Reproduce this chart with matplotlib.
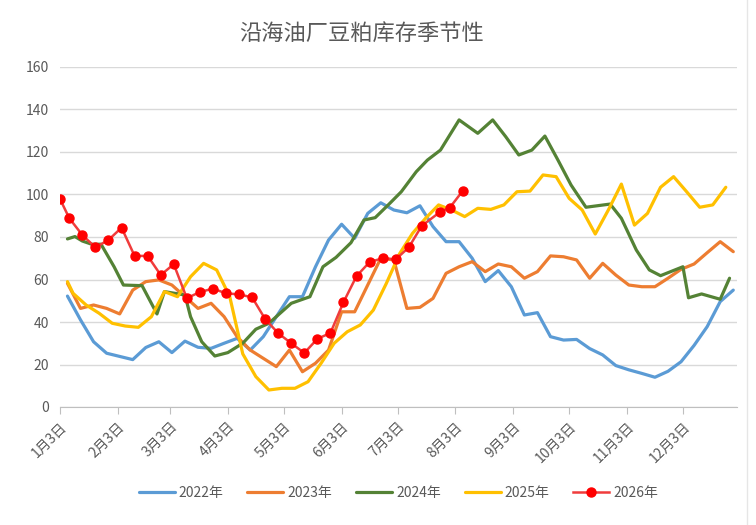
"""
沿海油厂豆粕库存季节性图。
"""
from datetime import date

import matplotlib
matplotlib.use("Agg")
import matplotlib.pyplot as plt
from matplotlib.lines import Line2D

plt.rcParams['font.family'] = ['Noto Sans CJK SC', 'DejaVu Sans']

# 数据：横轴为自1月3日起的天数，纵轴为库存（万吨）
days_2022 = list(range(4, 365, 7))
vals_2022 = [52.2, 41, 30.7, 25.3, 23.8, 22.3, 28, 30.7, 25.6, 31, 28.1, 27.6, 30,
             32.3, 26.8, 33.1, 42.5, 51.9, 51.9, 66, 78.6, 86, 79.4, 91.1, 96.1, 92.7,
             91.4, 94.7, 84.9, 77.8, 77.8, 70, 59, 64.2, 56.6, 43.3, 44.4, 33.1, 31.5,
             31.8, 27.5, 24.5, 19.5, 17.5, 15.8, 14, 16.8, 21.3, 29, 37.8, 49.6, 55]

days_2023 = list(range(4, 365, 7))
vals_2023 = [58.2, 46.4, 48, 46.4, 43.8, 55, 59, 59.8, 57.4, 51.9, 46.4, 48.8, 42.5,
             33, 26.8, 22.9, 19, 26.8, 16.6, 20.6, 26.8, 44.8, 44.8, 57.4, 70, 69.2,
             46.4, 46.9, 51.1, 62.9, 66, 68.4, 63.7, 67.3, 66, 60.6, 63.7, 71.1, 70.7,
             69.2, 60.6, 67.6, 62.1, 57.4, 56.6, 56.6, 60.6, 64.8, 67.3, 72.6, 77.8, 73.1]

days_2024 = [4, 8, 12, 17, 22, 29, 34, 44, 52, 56, 67, 70, 76, 83, 90, 98, 105, 112,
             118, 124, 134, 141, 148, 156, 163, 169, 176, 183, 191, 197, 204, 214, 224,
             232, 239, 246, 253, 260, 267, 274, 282, 295, 301, 309, 316, 322, 334, 337,
             344, 354, 359]
vals_2024 = [79.1, 80.2, 78.1, 76.6, 76.6, 66, 57.4, 57.1, 43.8, 54.3, 52.7, 42.5, 30.7,
             24, 25.6, 30, 36.6, 39.4, 44.1, 48.8, 51.9, 66, 70.4, 77.3, 88, 89.1, 95.1,
             101.3, 110.7, 116.2, 120.9, 135.1, 128.8, 135.1, 127.2, 118.6, 120.9, 127.5,
             116.2, 104.5, 94, 95.5, 88.8, 73.9, 64.5, 61.8, 66, 51.4, 53.2, 50.7, 60.6]

days_2025 = [4] + list(range(7, 358, 7))
vals_2025 = [59, 53.5, 48, 44.1, 39.4, 38.1, 37.5, 42.5, 54.3, 51.9, 61.3, 67.6, 64.5,
             52, 25, 14.3, 8, 8.8, 8.8, 11.9, 20.6, 30, 35.4, 38.6, 45.6, 58.2, 72, 81.7,
             88.8, 95.1, 92.7, 89.6, 93.5, 93, 95.1, 101.3, 101.6, 109.2, 108.4, 98.2,
             92.7, 81.4, 92.7, 104.9, 85.6, 91.1, 103.4, 108.4, 101.3, 94, 95.1, 103.4]

days_2026 = [0] + list(range(5, 195, 7)) + [204, 209, 216]
vals_2026 = [97.9, 88.8, 80.9, 75.1, 78.6, 84.4, 71.1, 71.1, 62.1, 67.2, 51.2, 54.1,
             55.7, 53.5, 53, 51.6, 41.4, 34.7, 30, 25.4, 32.1, 34.8, 49.3, 61.6, 68.2,
             70, 69.5, 75.1, 85.3, 91.9, 93.8, 101.8]

tick_months = list(range(1, 13))
tick_labels = [f"{m}月3日" for m in tick_months]

text_color = '#595959'
grid_color = '#D9D9D9'

fig = plt.figure(figsize=(7.56, 5.25), dpi=100)
fig.patch.set_facecolor('white')
ax = fig.add_axes([60 / 756, 118 / 525, 677 / 756, 340 / 525])

series = [
    ("2022年", days_2022, vals_2022, '#5B9BD5'),
    ("2023年", days_2023, vals_2023, '#ED7D31'),
    ("2024年", days_2024, vals_2024, '#548235'),
    ("2025年", days_2025, vals_2025, '#FFC000'),
]
for label, d, v, c in series:
    ax.plot(d, v, color=c, lw=2.3, label=label,
            solid_joinstyle='round', solid_capstyle='round')

ax.plot(days_2026, vals_2026, color='#F03C3C', lw=1.8, marker='o', ms=6.5,
        mfc='#FF0000', mec='#FF0000', label="2026年", solid_joinstyle='round')

ax.set_xlim(0, 363)
ax.set_ylim(0, 160)
ax.set_yticks(range(0, 161, 20))
ax.yaxis.grid(True, color=grid_color, lw=1)
ax.set_axisbelow(True)

base = date(2021, 1, 3)
ticks = [(date(2021, m, 3) - base).days for m in tick_months]
ax.set_xticks(ticks)
ax.set_xticklabels(tick_labels, rotation=45, ha='right', rotation_mode='anchor')

for side in ('left', 'right', 'top'):
    ax.spines[side].set_visible(False)
ax.spines['bottom'].set_color('#BFBFBF')
ax.tick_params(axis='x', colors='#BFBFBF', length=5, labelcolor=text_color,
               labelsize=10, pad=4)
ax.tick_params(axis='y', length=0, labelcolor=text_color, labelsize=10, pad=8)

fig.text(362 / 756, 1 - 33 / 525, "沿海油厂豆粕库存季节性", ha='center', va='center',
         fontsize=16, color=text_color)

leg = ax.legend(loc='center', bbox_to_anchor=(0.5, -0.253), ncol=5, frameon=False,
                fontsize=10, handlelength=2.6, handletextpad=0.3, columnspacing=1.7)
for t in leg.get_texts():
    t.set_color(text_color)

fig.add_artist(Line2D([747 / 756, 747 / 756], [0, 1], color='#E6E6E6', lw=1))

fig.savefig('out.png', dpi=100, facecolor='white')
